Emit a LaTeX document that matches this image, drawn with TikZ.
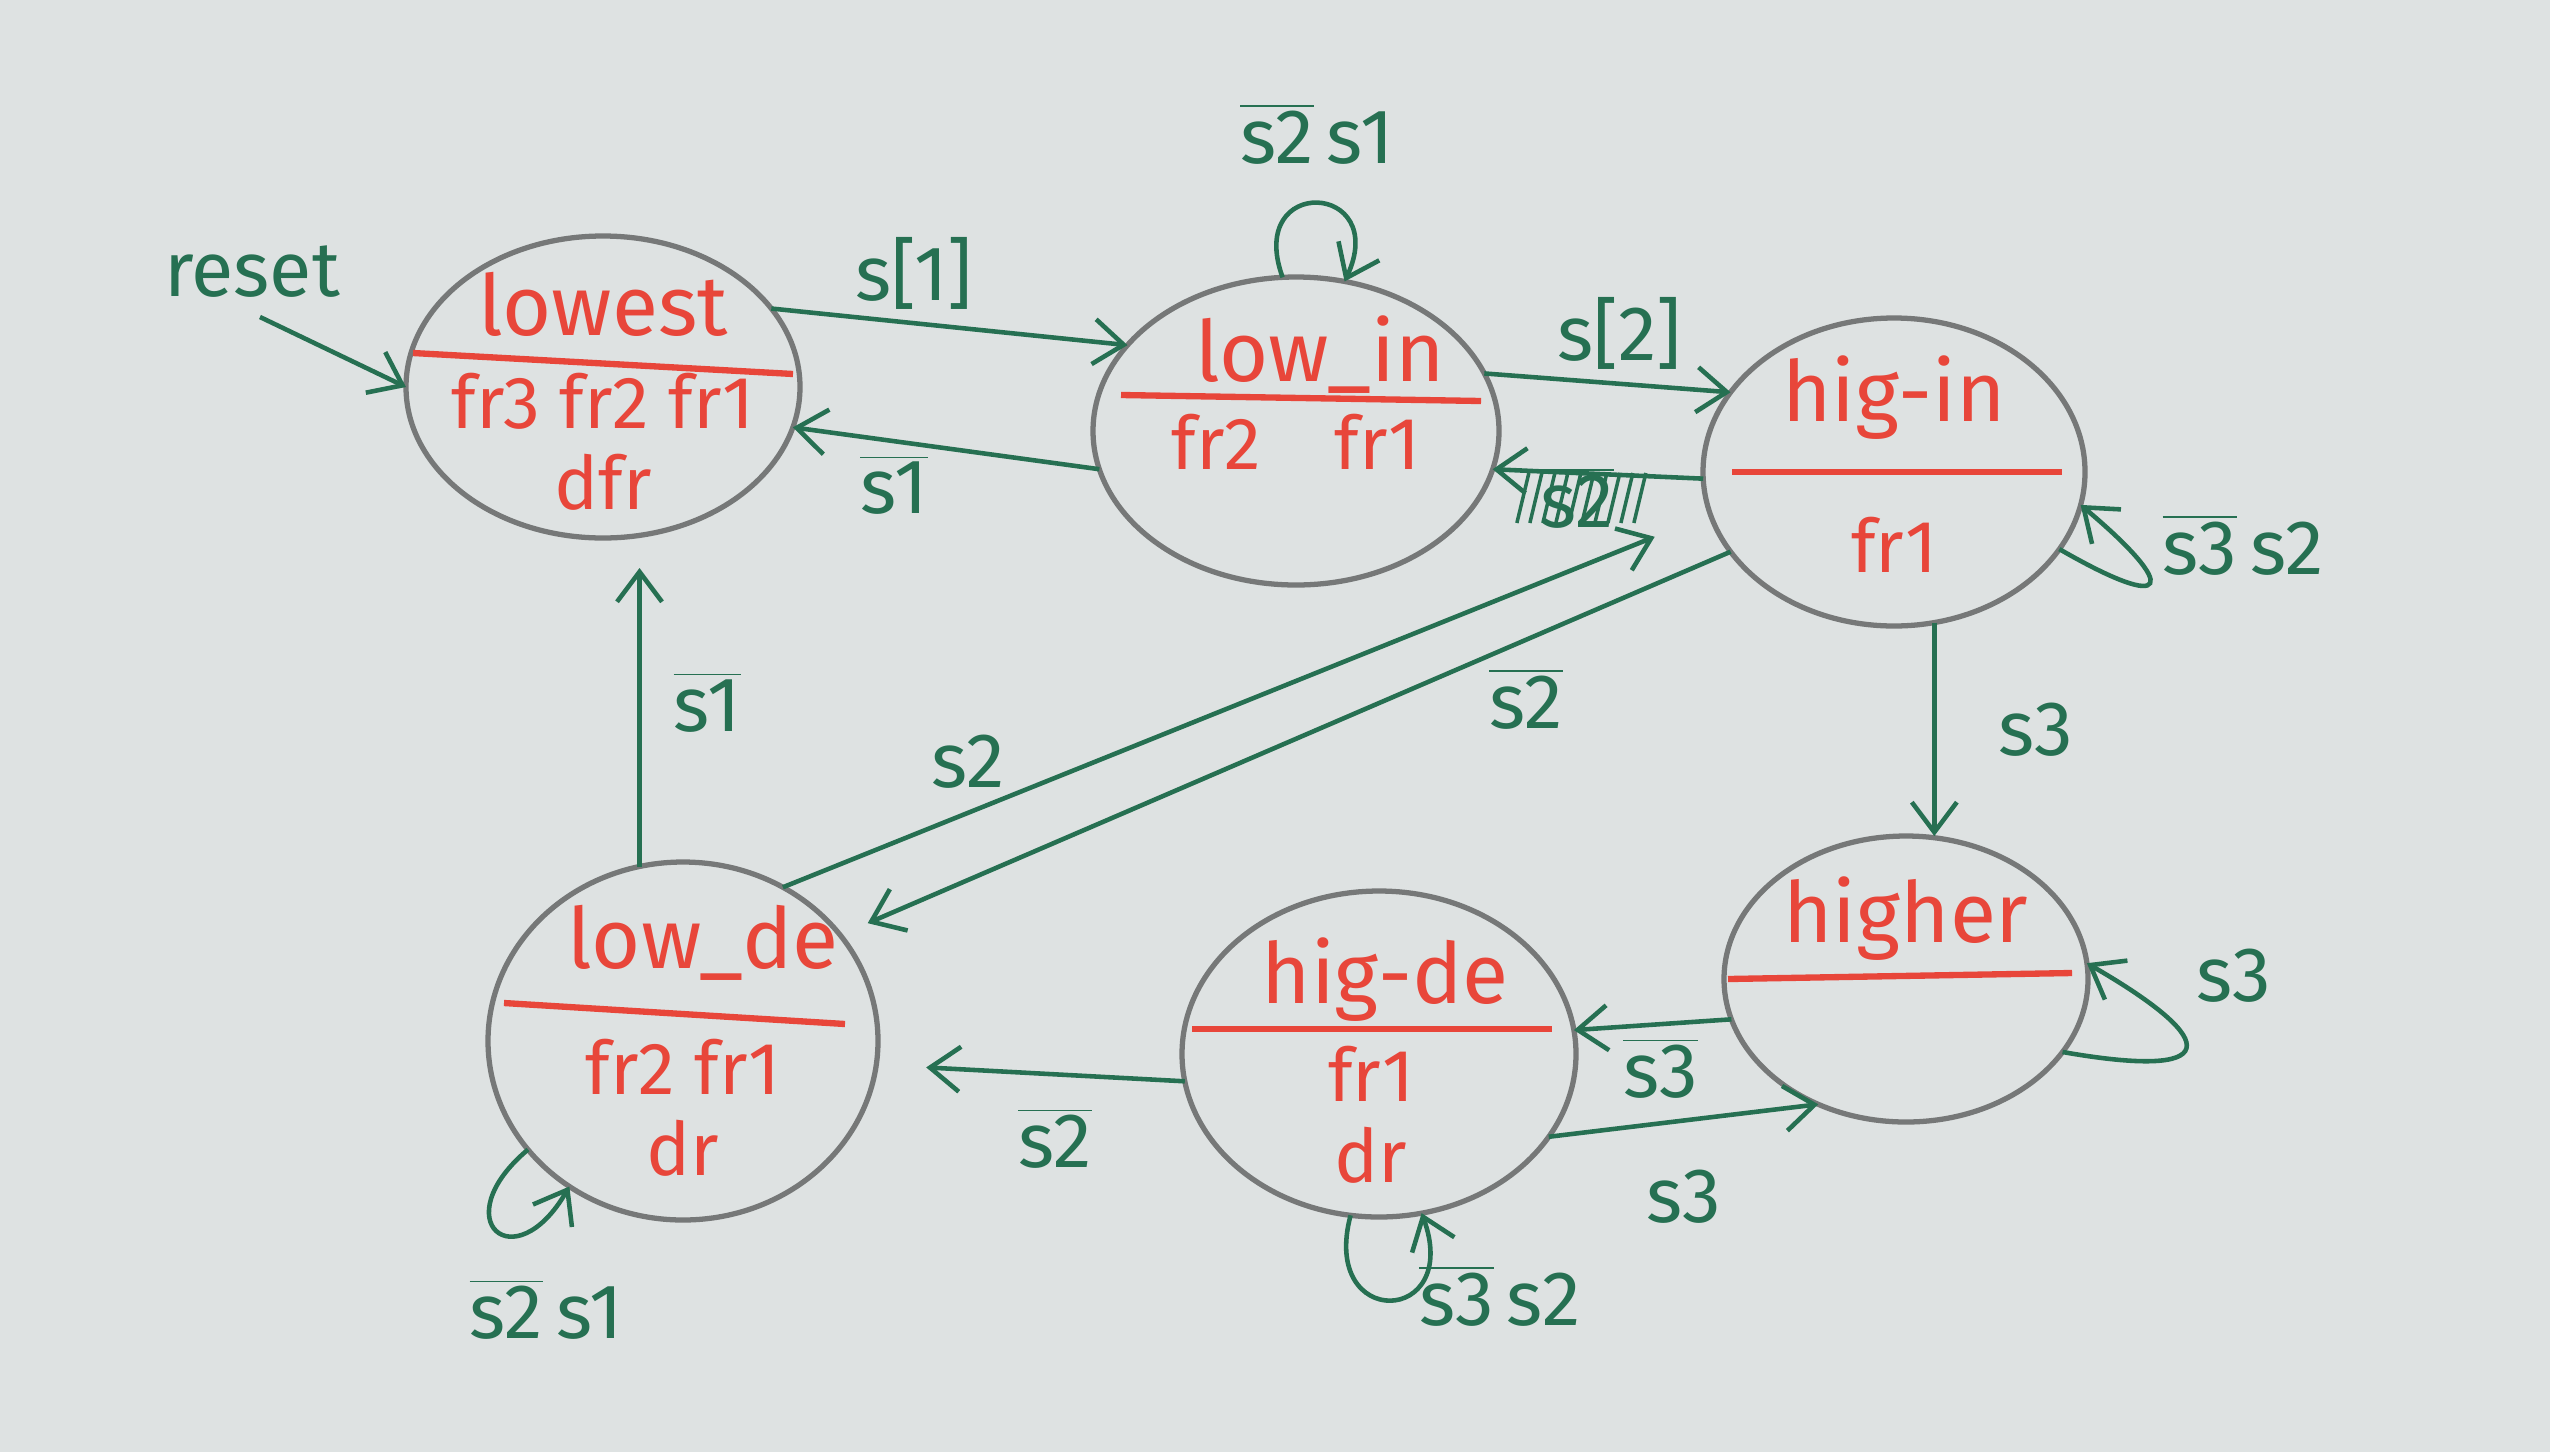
\documentclass[tikz,border=0pt]{standalone}
\usepackage{fontspec}
\setmainfont{Fira Sans}
\usepackage{xcolor}
\usetikzlibrary{positioning}
\usetikzlibrary{arrows.meta}
\usetikzlibrary{shapes.geometric}
\definecolor{paper}{RGB}{222,226,226}
\definecolor{inkgreen}{RGB}{38,112,82}
\definecolor{inkred}{RGB}{232,70,58}
\definecolor{pencil}{RGB}{118,120,120}
\newcommand{\ovl}[1]{$\overline{\mbox{#1}}$}
\tikzset {
  % pencil bubble of a state
  bubble/.style = {draw=pencil, ellipse, line width=1.5pt, inner sep=0pt, outer sep=0pt},
  % state name above the red bar, outputs below it
  sname/.style = {text=inkred, font=\fontsize{24}{26}\selectfont},
  souts/.style = {text=inkred, align=center, font=\fontsize{21}{23}\selectfont},
  divider/.style = {draw=inkred, line width=1.8pt},
  % transitions and their conditions
  trans/.style = {draw=inkgreen, line width=1.3pt, -{Straight Barb[length=3mm,width=4.5mm]}},
  lbl/.style = {text=inkgreen, font=\fontsize{22}{24}\selectfont},
}

\begin{document}
\begin{tikzpicture}
  \fill[paper] (0,0) rectangle (25.5,-14.52);
  \useasboundingbox (0,0) rectangle (25.5,-14.52);

  % states
  \node[bubble, minimum width=3.94cm, minimum height=3.02cm] (lowest) at (6.03,-3.87) {};
  \node[bubble, minimum width=4.06cm, minimum height=3.08cm] (lowin) at (12.96,-4.31) {};
  \node[bubble, minimum width=3.82cm, minimum height=3.08cm] (higin) at (18.94,-4.72) {};
  \node[bubble, minimum width=3.64cm, minimum height=2.86cm] (higher) at (19.06,-9.79) {};
  \node[bubble, minimum width=3.94cm, minimum height=3.26cm] (higde) at (13.79,-10.54) {};
  \node[bubble, minimum width=3.90cm, minimum height=3.58cm] (lowde) at (6.83,-10.41) {};

  % names, bars and outputs
  \node[sname] (lowest-name) at ([yshift=0.83cm]lowest.center) {lowest};
  \draw[divider] ([shift={(-1.9,0.34)}]lowest.center) -- ([shift={(1.9,0.13)}]lowest.center);
  \node[souts] (lowest-out) at ([yshift=-0.55cm]lowest.center) {fr3 fr2 fr1\\dfr};

  \node[sname] (lowin-name) at ([shift={(0.24,0.76)}]lowin.center) {low\_in};
  \draw[divider] ([shift={(-1.75,0.36)}]lowin.center) -- ([shift={(1.85,0.30)}]lowin.center);
  \node[souts] (lowin-out) at ([yshift=-0.11cm]lowin.center) {fr2\quad fr1};

  \node[sname] (higin-name) at ([yshift=0.74cm]higin.center) {hig-in};
  \draw[divider] ([shift={(-1.62,0)}]higin.center) -- ([shift={(1.68,0)}]higin.center);
  \node[souts] (higin-out) at ([yshift=-0.73cm]higin.center) {fr1};

  \node[sname] (higher-name) at ([yshift=0.6cm]higher.center) {higher};
  \draw[divider] ([shift={(-1.78,0)}]higher.center) -- ([shift={(1.66,0.06)}]higher.center);

  \node[sname] (higde-name) at ([shift={(0.06,0.74)}]higde.center) {hig-de};
  \draw[divider] ([shift={(-1.87,0.25)}]higde.center) -- ([shift={(1.73,0.25)}]higde.center);
  \node[souts] (higde-out) at ([shift={(-0.08,-0.61)}]higde.center) {fr1\\dr};

  \node[sname] (lowde-name) at ([shift={(0.2,0.98)}]lowde.center) {low\_de};
  \draw[divider] ([shift={(-1.79,0.38)}]lowde.center) -- ([shift={(1.62,0.17)}]lowde.center);
  \node[souts] (lowde-out) at ([yshift=-0.67cm]lowde.center) {fr2 fr1\\dr};

  % reset
  \coordinate (rst) at (2.6,-3.17);
  \node[lbl] (rst-lbl) at (2.52,-2.72) {reset};
  \draw[trans] (rst) -- (lowest.west);

  % transitions
  \draw[trans] (lowest.25) -- node[lbl, above, pos=.4] (l-s1) {s[1]} (lowin.153);
  \draw[trans] (lowin.191) -- node[lbl, below, pos=.67] (l-ns1a) {\ovl{s1}} (lowest.-12);
  \draw[trans] (lowin.95) .. controls +(110:1.1) and +(65:1.1) .. node[lbl, above=0.25cm] (l-loopa) {\ovl{s2}\,s1} (lowin.72);
  \draw[trans] (lowin.17) -- node[lbl, above, pos=.55] (l-s2a) {s[2]} (higin.154);

  % crossed out
  \draw[trans] (higin.182) -- node[lbl, pos=.6, yshift=-0.25cm] (l-xout) {\ovl{s2}} (lowin.-11);
  \foreach \k in {0,...,9}
    \draw[inkgreen, line width=1pt] ([shift={(-0.6+\k*0.13,-0.25)}]l-xout.center) -- ++(0.12,0.5);

  \draw[trans] (higin.-25) .. controls +(-30:1.3) and +(-40:1.3) .. node[lbl, right, pos=.6, yshift=0.3cm] (l-loopb) {\ovl{s3}\,s2} (higin.-10);
  \draw[trans] (higin.-75) -- node[lbl, right=0.5cm] (l-s3a) {s3} (higin.-75 |- higher.north);
  \draw[trans] (higher.-25) .. controls +(-10:1.6) and +(-30:1.6) .. node[lbl, pos=.8, right=0.3cm, yshift=0.3cm] (l-loopc) {s3} (higher.5);
  \draw[trans] (higher.193) -- node[lbl, below, pos=.45] (l-ns3a) {\ovl{s3}} (higde.7);
  \draw[trans] (higde.-26) -- node[lbl, below=0.35cm] (l-s3b) {s3} (higher.235);
  \draw[trans] (higde.-100) .. controls +(-105:1.2) and +(-70:1.2) .. node[lbl, right, pos=.6] (l-loopd) {\ovl{s3}\,s2} (higde.-75);
  \draw[trans, shorten >=0.5cm] (higde.188) -- node[lbl, below=0.2cm, pos=.42] (l-ns2a) {\ovl{s2}} (lowde.-7);
  \draw[trans] (lowde.215) .. controls +(-140:1.1) and +(-120:1.1) .. node[lbl, below=0.35cm, xshift=0.5cm] (l-loope) {\ovl{s2}\,s1} (lowde.232);
  \draw[trans, shorten >=0.3cm] (lowde.104) -- node[lbl, right=0.2cm] (l-ns1b) {\ovl{s1}} (lowde.104 |- lowest.south);
  \draw[trans, shorten >=0.6cm] (lowde.57) -- node[lbl, above=0.1cm, pos=.2] (l-s2b) {s2} (higin.193);
  \draw[trans, shorten >=0.3cm] (higin.206) -- node[lbl, below=0.15cm, pos=.23] (l-ns2b) {\ovl{s2}} (lowde.34);
\end{tikzpicture}
\end{document}
